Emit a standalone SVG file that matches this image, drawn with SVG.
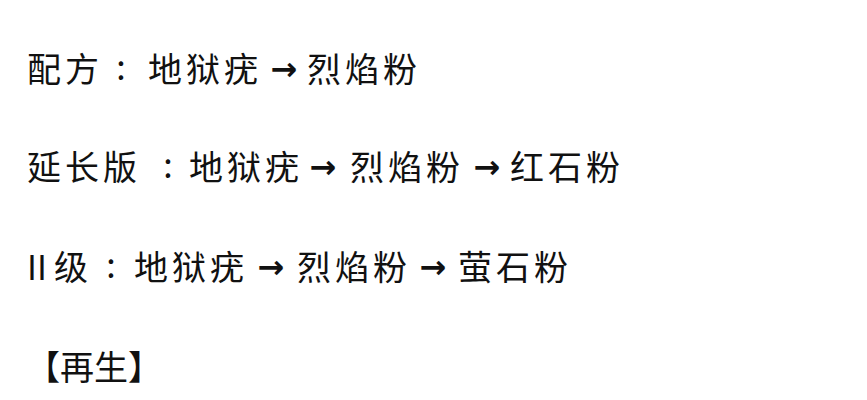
<svg xmlns="http://www.w3.org/2000/svg" width="867" height="400" viewBox="0 0 867 400"><style>text{font-family:"Noto Sans CJK SC","Noto Sans",sans-serif;font-size:34px;fill:#111;letter-spacing:4px}.c{text-anchor:middle;letter-spacing:0}.a{text-anchor:middle;letter-spacing:0;font-family:"DejaVu Sans",sans-serif;font-weight:bold;font-size:32px}</style><rect width="867" height="400" fill="#fff"/><g id="line1"><text x="27" y="82">配方</text><text class="c" x="121" y="80">:</text><text x="148" y="82">地狱疣</text><text class="a" x="284" y="80">→</text><text x="307" y="82">烈焰粉</text></g><g id="line2"><text x="27" y="180">延长版</text><text class="c" x="168" y="178">:</text><text x="189" y="180">地狱疣</text><text class="a" x="323" y="178">→</text><text x="350" y="180">烈焰粉</text><text class="a" x="487" y="178">→</text><text x="510" y="180">红石粉</text></g><g id="line3"><text x="27" y="280" style="letter-spacing:0">II</text><text x="54" y="280">级</text><text class="c" x="111" y="278">:</text><text x="134" y="280">地狱疣</text><text class="a" x="271" y="278">→</text><text x="297" y="280">烈焰粉</text><text class="a" x="433" y="278">→</text><text x="458" y="280">萤石粉</text></g><g id="line4"><text x="26" y="380" style="letter-spacing:0">【再生】</text></g></svg>
